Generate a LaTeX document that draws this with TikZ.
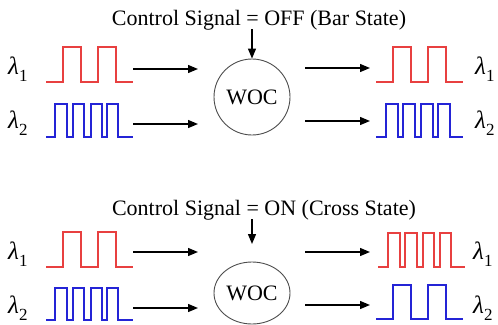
\documentclass[tikz,border=0pt]{standalone}
\usepackage{fontspec}
\setmainfont{Liberation Serif}[Ligatures=TeX]
\newfontfamily\tnr{Liberation Serif}
\usetikzlibrary{arrows.meta,shapes.geometric}
\definecolor{wred}{RGB}{232,64,64}
\definecolor{wblue}{RGB}{36,36,214}
\tikzset{
  wr/.style={draw=wred,line width=1.5pt},
  wb/.style={draw=wblue,line width=1.5pt},
  arr/.style={draw=black,line width=1.3pt,-{Triangle[length=10pt,width=8pt]}},
  lab/.style={anchor=west,inner sep=0pt,font=\tnr\fontsize{25}{27}\selectfont},
  txt/.style={inner sep=0pt,font=\tnr\fontsize{22}{24}\selectfont},
  woc/.style={draw=black!70,line width=0.9pt,font=\tnr\fontsize{22}{24}\selectfont,inner sep=0pt}
}
\newcommand{\lam}[1]{\textit{λ}\raisebox{-0.28em}{\fontsize{17}{18}\selectfont #1}}
\begin{document}
\begin{tikzpicture}[x=1pt,y=-1pt]
\useasboundingbox (0,0) rectangle (498,324);
% ===== Top panel =====
\node[txt] (t1) at (259,20) {Control Signal = OFF (Bar State)};
\node[woc,circle,minimum size=76pt] (w1) at (252,97) {WOC};
\coordinate (c1s) at (252,29);
\draw[arr] (c1s) -- (w1.north);
\node[lab] (l1a) at (8,69) {\lam{1}};
\node[lab] (l1b) at (8,123) {\lam{2}};
\node[lab] (r1a) at (475,69) {\lam{1}};
\node[lab] (r1b) at (475,123) {\lam{2}};
\draw[wr] (46,82) -- (63,82) -- (63,47) -- (81,47) -- (81,82) -- (98,82) -- (98,47) -- (116,47) -- (116,82) -- (133,82);
\draw[wb] (46,137) -- (55,137) -- (55,104) -- (67,104) -- (67,137) -- (73,137) -- (73,104) -- (84,104) -- (84,137) -- (91,137) -- (91,104) -- (102,104) -- (102,137) -- (107,137) -- (107,104) -- (118,104) -- (118,137) -- (133,137);
\draw[wr] (376,82) -- (393,82) -- (393,47) -- (411,47) -- (411,82) -- (428,82) -- (428,47) -- (446,47) -- (446,82) -- (463,82);
\draw[wb] (376,137) -- (386,137) -- (386,104) -- (398,104) -- (398,137) -- (403,137) -- (403,104) -- (415,104) -- (415,137) -- (421,137) -- (421,104) -- (433,104) -- (433,137) -- (438,137) -- (438,104) -- (450,104) -- (450,137) -- (463,137);
\coordinate (a1s) at (133,69); \coordinate (a1e) at (198,69);
\coordinate (a2s) at (133,124); \coordinate (a2e) at (198,124);
\coordinate (a3s) at (305,68); \coordinate (a3e) at (370,68);
\coordinate (a4s) at (305,121); \coordinate (a4e) at (370,121);
\draw[arr] (a1s) -- (a1e);
\draw[arr] (a2s) -- (a2e);
\draw[arr] (a3s) -- (a3e);
\draw[arr] (a4s) -- (a4e);
% ===== Bottom panel =====
\node[txt] (t2) at (264,210) {Control Signal = ON (Cross State)};
\node[woc,ellipse,minimum width=76pt,minimum height=62pt] (w2) at (252,293) {WOC};
\coordinate (c2s) at (252,219); \coordinate (c2e) at (252,244);
\draw[arr] (c2s) -- (c2e);
\node[lab] (l2a) at (8,254) {\lam{1}};
\node[lab] (l2b) at (8,308) {\lam{2}};
\node[lab] (r2a) at (473,254) {\lam{1}};
\node[lab] (r2b) at (473,308) {\lam{2}};
\draw[wr] (46,267) -- (63,267) -- (63,232) -- (81,232) -- (81,267) -- (98,267) -- (98,232) -- (116,232) -- (116,267) -- (133,267);
\draw[wb] (46,320) -- (55,320) -- (55,288) -- (67,288) -- (67,320) -- (73,320) -- (73,288) -- (84,288) -- (84,320) -- (91,320) -- (91,288) -- (102,288) -- (102,320) -- (107,320) -- (107,288) -- (118,288) -- (118,320) -- (133,320);
\draw[wr] (378,267) -- (388,267) -- (388,233) -- (400,233) -- (400,267) -- (405,267) -- (405,233) -- (417,233) -- (417,267) -- (423,267) -- (423,233) -- (434,233) -- (434,267) -- (440,267) -- (440,233) -- (451,233) -- (451,267) -- (465,267);
\draw[wb] (376,319) -- (393,319) -- (393,285) -- (411,285) -- (411,319) -- (428,319) -- (428,285) -- (446,285) -- (446,319) -- (463,319);
\coordinate (b1s) at (133,252); \coordinate (b1e) at (198,252);
\coordinate (b2s) at (133,308); \coordinate (b2e) at (198,308);
\coordinate (b3s) at (305,252); \coordinate (b3e) at (370,252);
\coordinate (b4s) at (305,305); \coordinate (b4e) at (370,305);
\draw[arr] (b1s) -- (b1e);
\draw[arr] (b2s) -- (b2e);
\draw[arr] (b3s) -- (b3e);
\draw[arr] (b4s) -- (b4e);
\end{tikzpicture}
\end{document}
